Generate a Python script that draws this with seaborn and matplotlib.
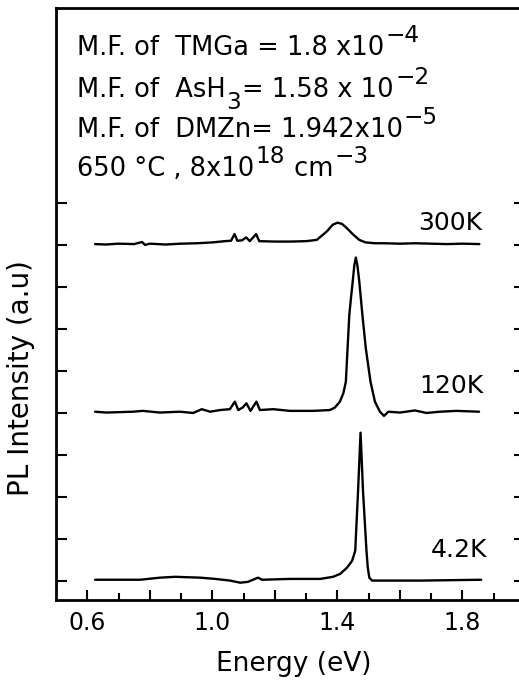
import matplotlib
matplotlib.use("Agg")
import matplotlib.pyplot as plt
import numpy as np
import pandas as pd
import seaborn as sns

# ---------------- data ----------------
temps = ["300K", "120K", "4.2K"]
baselines = [8.02, 4.03, 0.03]          # vertical offset of each spectrum (tick units)

E_300 = [0.625, 0.66, 0.70, 0.75, 0.775, 0.785, 0.80, 0.85, 0.90, 0.95,
         1.00, 1.04, 1.06, 1.071, 1.08, 1.095, 1.108, 1.12, 1.14, 1.15,
         1.20, 1.25, 1.30, 1.334, 1.366, 1.385, 1.40, 1.415, 1.43, 1.45,
         1.47, 1.49, 1.52, 1.55, 1.60, 1.65, 1.70, 1.75, 1.80, 1.854]
I_300 = [0.0, -0.01, 0.01, 0.0, 0.05, -0.02, 0.01, -0.01, 0.01, 0.02,
         0.04, 0.07, 0.08, 0.24, 0.08, 0.09, 0.16, 0.07, 0.24, 0.07,
         0.06, 0.06, 0.07, 0.10, 0.30, 0.46, 0.51, 0.48, 0.38, 0.23,
         0.10, 0.04, 0.02, 0.02, 0.01, 0.02, 0.01, 0.0, 0.01, 0.0]

E_120 = [0.625, 0.66, 0.746, 0.778, 0.832, 0.896, 0.939, 0.966, 0.993, 1.025,
         1.056, 1.072, 1.083, 1.097, 1.109, 1.122, 1.141, 1.152, 1.195, 1.248,
         1.323, 1.376, 1.392, 1.408, 1.419, 1.427, 1.438, 1.444, 1.449, 1.454,
         1.459, 1.464, 1.470, 1.480, 1.491, 1.506, 1.520, 1.536, 1.549, 1.563,
         1.600, 1.648, 1.685, 1.728, 1.781, 1.853]
I_120 = [0.0, -0.02, 0.0, 0.02, -0.02, 0.0, -0.03, 0.06, 0.0, 0.04,
         0.06, 0.24, 0.04, 0.10, 0.20, 0.02, 0.24, 0.04, 0.06, 0.02,
         0.02, 0.04, 0.10, 0.24, 0.44, 0.71, 2.30, 2.75, 3.10, 3.48,
         3.67, 3.48, 3.10, 2.30, 1.50, 0.71, 0.24, 0.0, -0.10, 0.0,
         -0.02, 0.03, -0.03, 0.0, 0.02, 0.0]

E_4 = [0.625, 0.705, 0.769, 0.833, 0.881, 0.961, 1.009, 1.057, 1.089, 1.114,
       1.146, 1.159, 1.249, 1.345, 1.386, 1.409, 1.431, 1.447, 1.457, 1.466,
       1.474, 1.482, 1.493, 1.497, 1.502, 1.511, 1.537, 1.665, 1.86]
I_4 = [0.0, 0.0, 0.0, 0.05, 0.07, 0.05, 0.02, -0.02, -0.07, -0.05,
       0.05, 0.0, 0.02, 0.02, 0.07, 0.14, 0.29, 0.45, 0.69, 2.10,
       3.50, 2.10, 0.69, 0.30, 0.05, -0.02, -0.02, -0.02, 0.0]

x_major = [0.6, 0.8, 1.0, 1.2, 1.4, 1.6, 1.8]
x_major_labels = ["0.6", "", "1.0", "", "1.4", "", "1.8"]
x_minor = [0.7, 0.9, 1.1, 1.3, 1.5, 1.7, 1.9]
y_ticks = list(range(10))

# growth-condition text: (text, kind) with kind n=normal, sup, sub
info_lines = [
    [("M.F. of  TMGa = 1.8 x10", "n"), ("\u22124", "sup")],
    [("M.F. of  AsH", "n"), ("3", "sub"), ("= 1.58 x 10", "n"), ("\u22122", "sup")],
    [("M.F. of  DMZn= 1.942x10", "n"), ("\u22125", "sup")],
    [("650 \u00b0C , 8x10", "n"), ("18", "sup"), (" cm", "n"), ("\u22123", "sup")],
]

# ---------------- build table ----------------
frames = []
for t, off, E, I in zip(temps, baselines, [E_300, E_120, E_4], [I_300, I_120, I_4]):
    frames.append(pd.DataFrame({"energy": E,
                                "intensity": np.array(I) + off,
                                "temp": t}))
df = pd.concat(frames, ignore_index=True)

# ---------------- plot ----------------
sns.set_style("ticks")
FAM = ["DejaVu Sans"]
plt.rcParams["font.family"] = FAM
for k in ["text.color", "axes.labelcolor", "xtick.color", "ytick.color", "axes.edgecolor"]:
    plt.rcParams[k] = "black"

W, H = 519, 681
fig = plt.figure(figsize=(W / 100, H / 100), dpi=100)
ax = fig.add_axes([56 / W, 1 - 600 / H, (525 - 56) / W, (600 - 8) / H])

sns.lineplot(data=df, x="energy", y="intensity", hue="temp",
             palette={t: "black" for t in temps}, estimator=None, sort=False,
             legend=False, linewidth=1.7, ax=ax)

ax.set_xlim(0.5, 2.0)
ax.set_ylim(-0.452, 13.64)

ax.set_xticks(x_major)
ax.set_xticklabels(x_major_labels)
ax.set_xticks(x_minor, minor=True)
ax.set_yticks(y_ticks)
ax.set_yticklabels([])

for s in ax.spines.values():
    s.set_linewidth(2.0)
    s.set_color("black")

ax.tick_params(which="both", direction="in", top=False, right=True,
               width=1.5, color="black")
ax.tick_params(axis="x", which="major", length=7.5, labelsize=17, pad=8)
ax.tick_params(axis="x", which="minor", length=5)
ax.tick_params(axis="y", which="major", length=8)

ax.set_xlabel("Energy (eV)", fontsize=19)
ax.xaxis.set_label_coords((294 - 56) / 469, (600 - 651) / 592)
ax.set_ylabel("PL Intensity (a.u)", fontsize=20)
ax.yaxis.label.set_va("center")
ax.yaxis.set_label_coords((21 - 56) / 469, (600 - 378) / 592)

# temperature labels (right-aligned, above each baseline)
label_pos = {"300K": (1.863, 8.36), "120K": (1.866, 4.48), "4.2K": (1.879, 0.57)}
for t in temps:
    x, y = label_pos[t]
    ax.text(x, y, t, ha="right", va="baseline", fontsize=18)

# growth-condition text block, composed piece by piece
renderer = fig.canvas.get_renderer()
FS = 18.5
line_base_px = [55, 97, 137, 176]
for segs, ypx in zip(info_lines, line_base_px):
    xpx = 77.0
    for txt, kind in segs:
        if kind == "n":
            size, dy = FS, 0
        elif kind == "sup":
            size, dy = FS * 0.9, 13
        else:
            size, dy = FS * 0.9, -12
        tobj = fig.text(xpx / W, (H - ypx + dy) / H, txt, ha="left",
                        va="baseline", fontsize=size, family=FAM)
        bb = tobj.get_window_extent(renderer)
        xpx = bb.x1 + 1

fig.savefig("out.png", dpi=100)
